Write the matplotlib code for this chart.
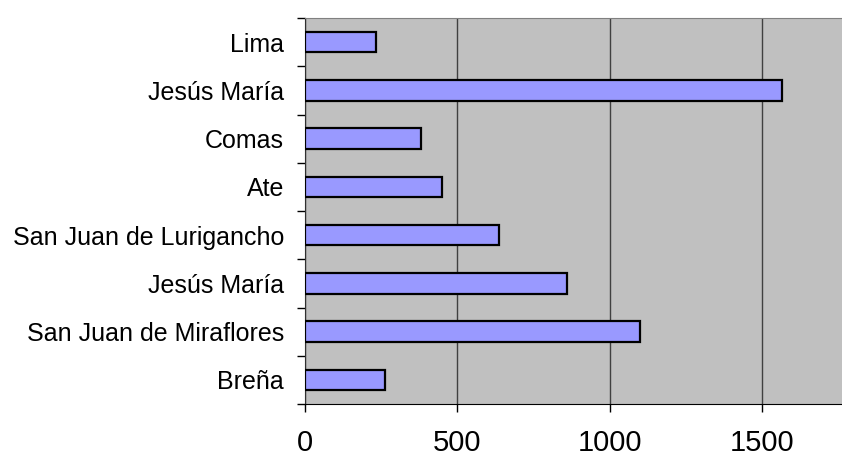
import matplotlib
matplotlib.use("Agg")
import matplotlib.pyplot as plt
import numpy as np

# districts listed bottom to top
districts = ["Breña", "San Juan de Miraflores", "Jesús María",
             "San Juan de Lurigancho", "Ate", "Comas", "Jesús María", "Lima"]
values = [262, 1100, 860, 635, 450, 380, 1565, 232]
x_ticks = [0, 500, 1000, 1500]

plt.rcParams["font.family"] = ["Liberation Sans", "DejaVu Sans"]

fig = plt.figure(figsize=(8.42, 4.59), dpi=100)
ax = fig.add_axes([305 / 842, 55 / 459, 1 - 305 / 842, (404 - 18) / 459])
ax.set_facecolor("#C0C0C0")

y = np.arange(len(districts))
ax.barh(y, values, height=0.42, color="#9999FF", edgecolor="black",
        linewidth=1.6, zorder=3)

ax.set_xlim(0, 1762)
ax.set_ylim(-0.5, len(districts) - 0.5)

ax.set_xticks(x_ticks)
ax.set_xticklabels([str(v) for v in x_ticks], fontsize=21)
ax.tick_params(axis="x", direction="out", length=6, width=1, pad=12)
ax.grid(axis="x", color="#404040", linewidth=1, zorder=1)

# category labels centred on bars, tick marks between categories
ax.set_yticks(y)
ax.set_yticklabels(districts, fontsize=18)
ax.tick_params(axis="y", which="major", length=0, pad=15)
ax.set_yticks(np.arange(-0.5, len(districts)), minor=True)
ax.tick_params(axis="y", which="minor", direction="out", length=6, width=1)

ax.spines["right"].set_visible(False)
ax.spines["top"].set_color("#808080")
ax.spines["left"].set_color("#303030")
ax.spines["bottom"].set_color("black")

fig.savefig("out.png", dpi=100, facecolor="white")
